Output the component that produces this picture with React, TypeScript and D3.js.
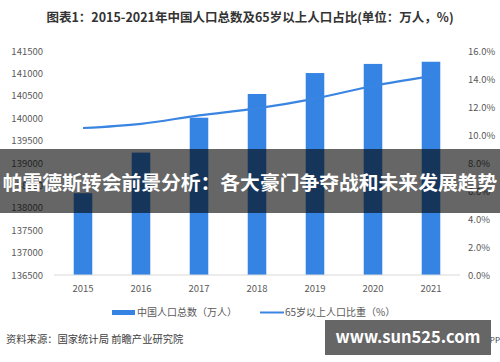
import * as d3 from 'd3';
import { useEffect, useRef } from 'react';

const years = ['2015', '2016', '2017', '2018', '2019', '2020', '2021'];
const population = [138326, 139232, 140011, 140541, 141008, 141212, 141260];
const elderRatio = [10.5, 10.8, 11.4, 11.9, 12.6, 13.5, 14.2];
const leftTicks = [136500, 137000, 137500, 138000, 138500, 139000, 139500, 140000, 140500, 141000, 141500];
const rightTicks = [0, 2, 4, 6, 8, 10, 12, 14, 16];

const FONT = '"Noto Sans CJK SC", "Noto Sans", sans-serif';

const App = () => {
    const ref = useRef<SVGSVGElement>(null);

    useEffect(() => {
        const svg = d3.select(ref.current);
        svg.selectAll('*').remove();

        const margin = { top: 51, left: 54, right: 460, bottom: 275 };
        const x: any = d3.scaleBand().domain(years).range([margin.left, margin.right]).paddingInner(0.68).paddingOuter(0.34);
        const yL = d3.scaleLinear().domain([136500, 141500]).range([margin.bottom, margin.top]);
        const yR = d3.scaleLinear().domain([0, 16]).range([margin.bottom, margin.top]);

        svg.append('rect').attr('width', 500).attr('height', 362).attr('fill', '#fff');

        // title
        svg.append('text')
            .attr('x', 250).attr('y', 22)
            .attr('text-anchor', 'middle')
            .style('font-size', '12.5px').style('font-weight', 'bold')
            .attr('fill', '#333')
            .text('图表1：2015-2021年中国人口总数及65岁以上人口占比(单位：万人，%)');

        // left axis labels
        svg.append('g').selectAll('text').data(leftTicks).enter().append('text')
            .attr('x', 43).attr('y', (d: number) => yL(d) + 3.5)
            .attr('text-anchor', 'end')
            .style('font-size', '9.5px').attr('fill', '#595959')
            .text((d: number) => d);

        // right axis labels
        svg.append('g').selectAll('text').data(rightTicks).enter().append('text')
            .attr('x', 468).attr('y', (d: number) => yR(d) + 3.5)
            .style('font-size', '9.5px').attr('fill', '#595959')
            .text((d: number) => d.toFixed(1) + '%');

        // bars
        svg.append('g').selectAll('rect').data(population).enter().append('rect')
            .attr('x', (_d: number, i: number) => x(years[i]))
            .attr('width', x.bandwidth())
            .attr('y', (d: number) => yL(d))
            .attr('height', (d: number) => yL(136500) - yL(d))
            .attr('fill', '#3584e4');

        // baseline
        svg.append('line')
            .attr('x1', margin.left).attr('x2', margin.right)
            .attr('y1', margin.bottom).attr('y2', margin.bottom)
            .attr('stroke', '#d9d9d9').attr('stroke-width', 1);

        // x labels
        svg.append('g').selectAll('text').data(years).enter().append('text')
            .attr('x', (d: string) => x(d) + x.bandwidth() / 2).attr('y', 292)
            .attr('text-anchor', 'middle')
            .style('font-size', '9.5px').attr('fill', '#595959')
            .text((d: string) => d);

        // line
        const line = d3.line<number>()
            .x((_d, i) => x(years[i]) + x.bandwidth() / 2)
            .y(d => yR(d))
            .curve(d3.curveMonotoneX);
        svg.append('path')
            .datum(elderRatio)
            .attr('d', line)
            .attr('fill', 'none')
            .attr('stroke', '#3a85e2')
            .attr('stroke-width', 2.2);

        // legend
        svg.append('rect').attr('x', 112).attr('y', 310).attr('width', 23).attr('height', 5).attr('fill', '#3584e4');
        svg.append('text').attr('x', 137).attr('y', 316)
            .style('font-size', '10px').attr('fill', '#595959')
            .text('中国人口总数（万人）');
        svg.append('line').attr('x1', 260).attr('x2', 284).attr('y1', 312.5).attr('y2', 312.5)
            .attr('stroke', '#3a85e2').attr('stroke-width', 2);
        svg.append('text').attr('x', 285).attr('y', 316)
            .style('font-size', '10px').attr('fill', '#595959')
            .text('65岁以上人口比重（%）');

        // source
        svg.append('text').attr('x', 6).attr('y', 343)
            .style('font-size', '10.3px').attr('fill', '#404040')
            .text('资料来源：国家统计局 前瞻产业研究院');
        svg.append('text').attr('x', 500).attr('y', 343)
            .attr('text-anchor', 'end')
            .style('font-size', '8px').attr('fill', '#404040')
            .text('APP');

        // overlay banner
        svg.append('rect').attr('x', 0).attr('y', 149).attr('width', 500).attr('height', 64)
            .attr('fill', 'rgba(0,0,0,0.6)');
        svg.append('text').attr('x', 250).attr('y', 190)
            .attr('text-anchor', 'middle')
            .style('font-size', '19.8px').style('font-weight', 'bold')
            .attr('fill', '#fff')
            .text('帕雷德斯转会前景分析：各大豪门争夺战和未来发展趋势');

        // bottom-right stamp
        svg.append('rect').attr('x', 325).attr('y', 320).attr('width', 166).attr('height', 35)
            .attr('fill', '#666');
        svg.append('text').attr('x', 408).attr('y', 343)
            .attr('text-anchor', 'middle')
            .style('font-size', '16.5px').style('font-weight', 'bold')
            .attr('fill', '#fff')
            .text('www.sun525.com');
    }, []);

    return (
        <svg ref={ref} width={500} height={362}
            style={{ position: 'absolute', left: 0, top: 0, display: 'block', fontFamily: FONT }} />
    );
};

export default App;
